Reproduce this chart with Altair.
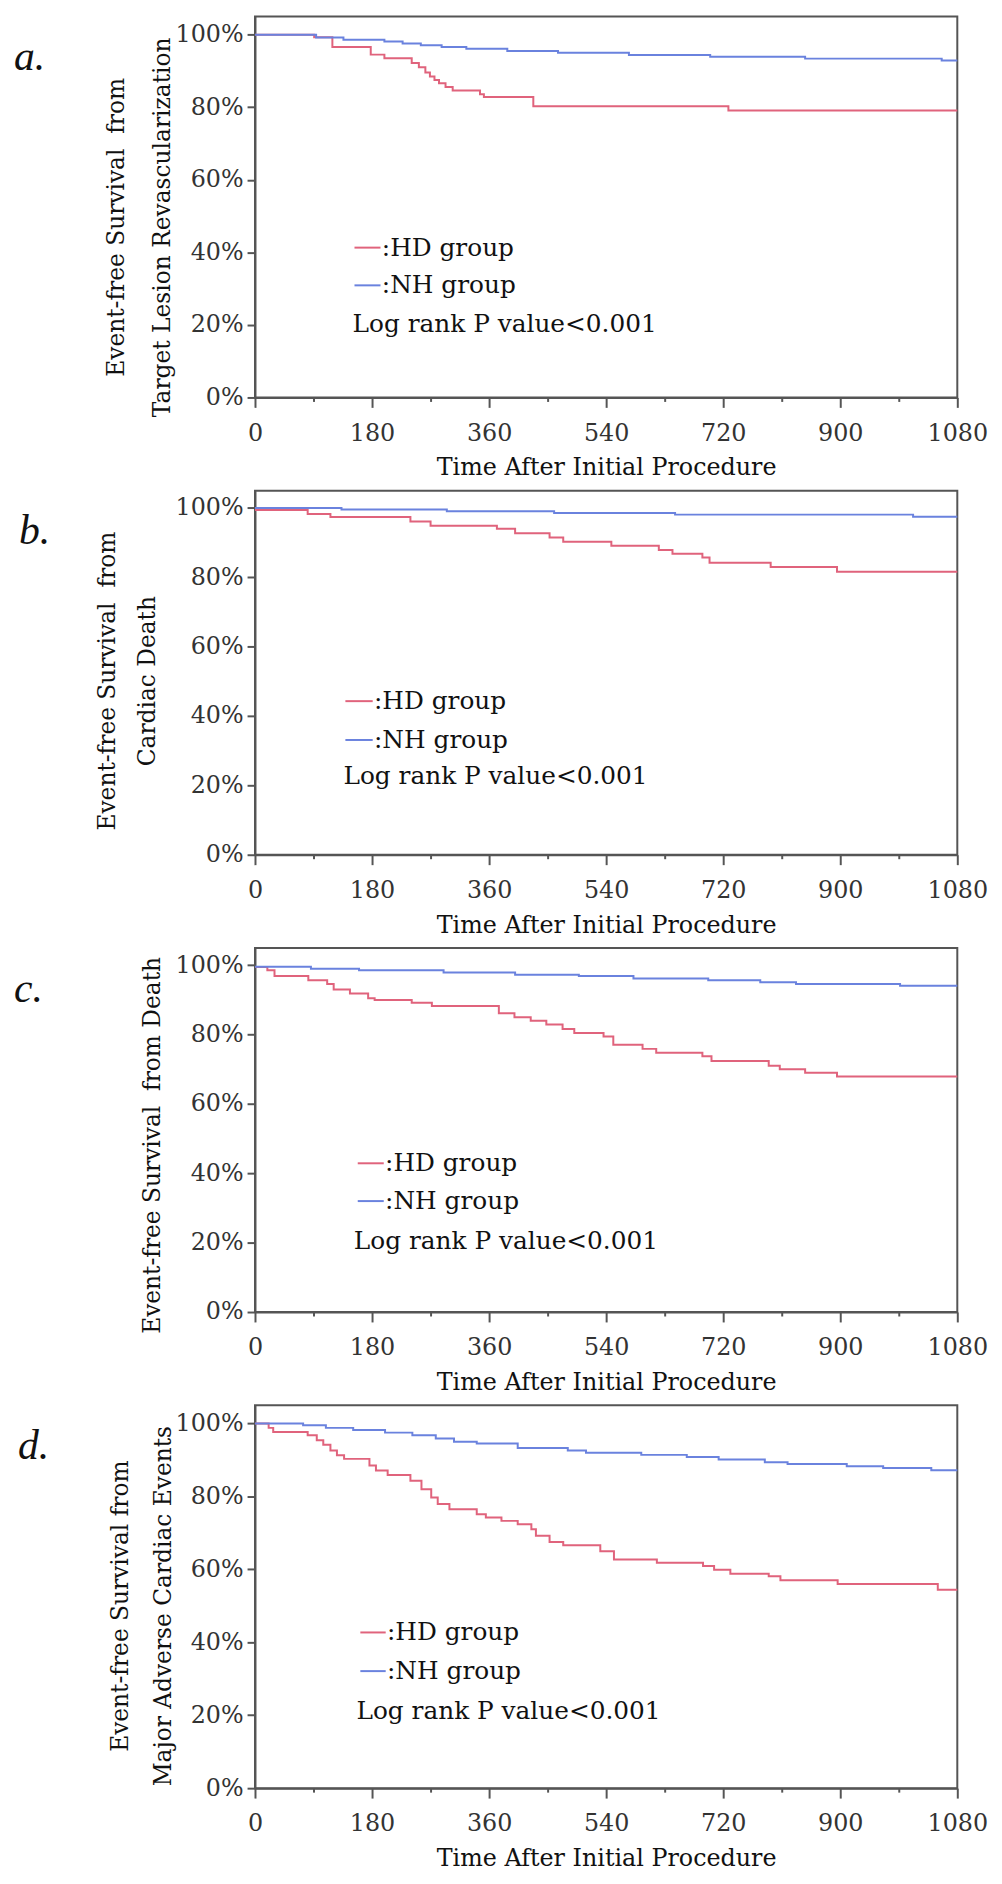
import altair as alt
import pandas as pd

# ---------------- data ----------------
# a. Target Lesion Revascularization
a_hd_t = [0, 91, 119, 178, 199, 241, 252, 262, 269, 276, 283, 293, 304, 346, 352, 428, 728, 1080]
a_hd_s = [100, 99.3, 96.6, 94.5, 93.5, 92.2, 91.0, 89.6, 88.5, 87.5, 86.6, 85.6, 84.6, 83.6, 82.8, 80.3, 79.1, 79.1]
a_nh_t = [0, 94, 136, 199, 227, 255, 287, 325, 388, 466, 575, 700, 846, 1056, 1080]
a_nh_s = [100, 99.2, 98.6, 98.1, 97.6, 97.1, 96.6, 96.1, 95.5, 95.0, 94.4, 93.9, 93.4, 92.9, 92.9]

# b. Cardiac Death
b_hd_t = [0, 81, 116, 239, 270, 372, 400, 453, 474, 548, 621, 642, 688, 699, 793, 895, 1080]
b_hd_s = [99.4, 98.3, 97.4, 96.1, 94.9, 94.0, 92.7, 91.5, 90.3, 89.1, 87.9, 86.8, 85.7, 84.2, 83.0, 81.6, 81.6]
b_nh_t = [0, 133, 295, 460, 646, 1012, 1080]
b_nh_s = [100, 99.6, 99.1, 98.6, 98.1, 97.5, 97.5]

# c. Death
c_hd_t = [0, 19, 30, 82, 111, 121, 146, 174, 184, 241, 272, 375, 399, 424, 448, 473, 491, 536, 551, 596, 617,
          688, 702, 790, 807, 846, 895, 1080]
c_hd_s = [99.5, 98.6, 96.9, 95.7, 94.6, 93.0, 91.9, 90.5, 90.0, 89.2, 88.3, 86.2, 85.0, 84.0, 82.9, 81.6, 80.5,
          79.5, 77.1, 75.9, 74.8, 73.8, 72.4, 71.0, 70.0, 69.0, 67.9, 67.9]
c_nh_t = [0, 86, 160, 290, 400, 498, 582, 697, 777, 832, 992, 1080]
c_nh_s = [99.6, 99.0, 98.6, 97.9, 97.3, 96.9, 96.2, 95.7, 95.1, 94.6, 94.1, 94.1]

# d. Major Adverse Cardiac Events
d_hd_t = [0, 21, 28, 81, 95, 105, 116, 126, 137, 176, 186, 204, 239, 256, 271, 281, 299, 341, 355, 379, 404,
          425, 432, 453, 474, 531, 552, 618, 689, 706, 731, 790, 808, 896, 1050, 1080]
d_hd_s = [100, 98.8, 97.7, 96.8, 95.4, 94.2, 92.6, 91.3, 90.3, 88.5, 87.1, 85.9, 84.3, 82.0, 79.7, 77.9, 76.5,
          75.1, 74.2, 73.3, 72.4, 71.0, 69.2, 67.5, 66.6, 65.0, 62.7, 61.8, 60.9, 59.9, 58.8, 58.1, 57.0, 56.0,
          54.4, 54.4]
d_nh_t = [0, 74, 109, 151, 200, 242, 278, 306, 341, 404, 481, 509, 594, 664, 713, 784, 819, 910, 966, 1040, 1080]
d_nh_s = [100, 99.5, 98.8, 98.2, 97.5, 96.8, 95.9, 95.0, 94.5, 93.3, 92.6, 92.0, 91.4, 90.8, 90.1, 89.4, 88.9,
          88.3, 87.8, 87.2, 87.2]

panel_letters = ["a.", "b.", "c.", "d."]
y_titles = [
    ["Event-free Survival\u00a0 from", "Target Lesion Revascularization"],
    ["Event-free Survival\u00a0 from", "Cardiac Death"],
    "Event-free Survival\u00a0 from Death",
    ["Event-free Survival from", "Major Adverse Cardiac Events"],
]
x_title = "Time After Initial Procedure"
group_labels = [":HD group", ":NH group"]
logrank_label = "Log rank P value<0.001"

# legend key positions (data units): segment start, segment end, HD y, NH y, log-rank x, log-rank y
legend_x1 = [153, 139, 158, 162]
legend_x2 = [193, 181, 198, 201]
legend_y_hd = [41.3, 44.3, 42.9, 42.7]
legend_y_nh = [30.9, 33.1, 32.0, 32.1]
logrank_x = [150, 136, 152, 156]
logrank_y = [20.2, 22.6, 20.6, 21.2]

x_tick_values = list(range(0, 1081, 90))
y_tick_values = list(range(0, 101, 10))

# ---------------- style ----------------
RED = "#e0637c"
BLUE = "#6a82de"
FRAME = "#555555"
FONT = "DejaVu Serif"
LETTER_FONT = "Liberation Serif"
W = 708
heights = [384, 367, 367, 386]
title_line_heights = [46, 40, 40, 43]
title_paddings = [1, 16, 11, 0]
title_y_shift = [20, 8, 15, 9]
letter_x = [-243, -238, -243, -239]


def panel(i, hd_t, hd_s, nh_t, nh_s):
    df = pd.DataFrame({
        "t": hd_t + nh_t,
        "s": hd_s + nh_s,
        "g": ["HD"] * len(hd_t) + ["NH"] * len(nh_t),
    })
    xs = alt.Scale(domain=[0, 1080], nice=False, zero=False)
    ys = alt.Scale(domain=[0, 105], nice=False)
    color = alt.Color("g:N", scale=alt.Scale(domain=["HD", "NH"], range=[RED, BLUE]), legend=None)

    common = dict(
        labelFont=FONT, titleFont=FONT, labelFontSize=24,
        labelColor="#333333", titleColor="#111111", titleFontWeight="normal",
        domainColor=FRAME, tickColor=FRAME, domainWidth=2, tickWidth=2, grid=False,
        labelOverlap=False,
    )
    x_axis = alt.Axis(
        values=x_tick_values, title=x_title, titleFontSize=24,
        labelExpr="datum.value % 180 === 0 ? datum.label : ''",
        tickSize={"condition": {"test": "datum.value % 180 === 0", "value": 10}, "value": 4},
        labelFlush=False, labelPadding=14, titlePadding=11, format="d",
        **common,
    )
    y_axis = alt.Axis(
        values=y_tick_values, title=y_titles[i], titleFontSize=23.5,
        labelExpr="datum.value % 20 === 0 ? datum.value + '%' : ''",
        tickSize={"condition": {"test": "datum.value % 20 === 0", "value": 8}, "value": 3},
        labelPadding=4,
        titleLineHeight=title_line_heights[i], titlePadding=title_paddings[i],
        titleY=heights[i] / 2 + title_y_shift[i],
        **common,
    )

    lines = alt.Chart(df).mark_line(interpolate="step-after", strokeWidth=2).encode(
        x=alt.X("t:Q", scale=xs, axis=x_axis),
        y=alt.Y("s:Q", scale=ys, axis=y_axis),
        color=color,
    )

    leg = pd.DataFrame({
        "t": [legend_x1[i], legend_x1[i]],
        "t2": [legend_x2[i], legend_x2[i]],
        "tx": [legend_x2[i] + 2, legend_x2[i] + 2],
        "s": [legend_y_hd[i], legend_y_nh[i]],
        "g": ["HD", "NH"],
        "label": group_labels,
    })
    keys = alt.Chart(leg).mark_rule(strokeWidth=2).encode(
        x=alt.X("t:Q", scale=xs), x2="t2:Q", y=alt.Y("s:Q", scale=ys), color=color,
    )
    key_text = alt.Chart(leg).mark_text(
        align="left", baseline="middle", font=FONT, fontSize=25, color="#111111"
    ).encode(x=alt.X("tx:Q", scale=xs), y=alt.Y("s:Q", scale=ys), text="label:N")

    lr = pd.DataFrame({"t": [logrank_x[i]], "s": [logrank_y[i]], "label": [logrank_label]})
    lr_text = alt.Chart(lr).mark_text(
        align="left", baseline="middle", font=FONT, fontSize=25, color="#111111"
    ).encode(x=alt.X("t:Q", scale=xs), y=alt.Y("s:Q", scale=ys), text="label:N")

    let = pd.DataFrame({"label": [panel_letters[i]]})
    letter = alt.Chart(let).mark_text(
        align="left", baseline="alphabetic", font=LETTER_FONT, fontSize=42, fontStyle="italic",
        color="#111111"
    ).encode(x=alt.value(letter_x[i]), y=alt.value(54), text="label:N")

    return alt.layer(lines, keys, key_text, lr_text, letter).properties(width=W, height=heights[i])


panels = [
    panel(0, a_hd_t, a_hd_s, a_nh_t, a_nh_s),
    panel(1, b_hd_t, b_hd_s, b_nh_t, b_nh_s),
    panel(2, c_hd_t, c_hd_s, c_nh_t, c_nh_s),
    panel(3, d_hd_t, d_hd_s, d_nh_t, d_nh_s),
]

chart = alt.vconcat(*panels, spacing=94, bounds="flush").properties(
    background="white",
    padding={"top": 0, "left": 5, "right": 5, "bottom": 5},
).configure_view(
    stroke=FRAME, strokeWidth=2
)

chart.save("out.html", embed_options={"renderer": "svg", "actions": False})
